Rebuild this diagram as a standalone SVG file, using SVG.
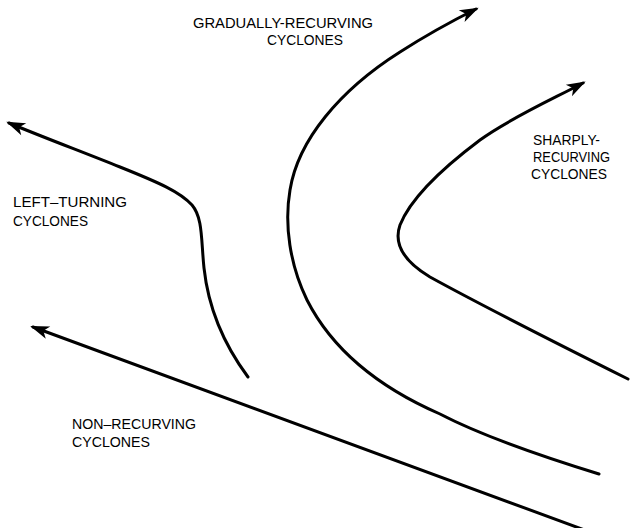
<svg xmlns="http://www.w3.org/2000/svg" width="630" height="528" viewBox="0 0 630 528">
<style>
.track{fill:none;stroke:#000;stroke-width:3;stroke-linecap:round;stroke-linejoin:round}
.lbl{font-family:"Liberation Sans",Arial,sans-serif;font-size:15px;fill:#000}
</style>
<defs>
<marker id="ah" markerUnits="userSpaceOnUse" markerWidth="30" markerHeight="20" viewBox="-20 -10 30 20" refX="0" refY="0" orient="auto">
<path d="M3,0 L-16,-6.5 L-11,0 L-16,6.5 Z" fill="#000"/>
</marker>
</defs>
<rect width="630" height="528" fill="#fff"/>
<g id="tracks">
<path id="gradual" class="track" marker-end="url(#ah)" d="M599,474 C560,462 490,440 440,414 C385,390 335,355 307,300 C290,265 284,225 290,190 C298,140 340,90 400,52 C425,36 450,22 476,9"/>
<path id="sharp" class="track" marker-end="url(#ah)" d="M628,379 C580,355 490,310 430,277 C405,262 393,245 400,225 C410,200 440,170 480,140 C510,118 555,98 583,83"/>
<path id="left" class="track" marker-end="url(#ah)" d="M248,377 C222,342 208,305 204,268 C201,240 203,218 192,205 C180,192 160,183 120,167 C80,151 40,136 9,123"/>
<path id="nonrec" class="track" marker-end="url(#ah)" d="M590,532 L33,327"/>
</g>
<g id="label-gradual">
<text class="lbl" x="193" y="28" textLength="180" lengthAdjust="spacingAndGlyphs">GRADUALLY-RECURVING</text>
<text class="lbl" x="267" y="45" textLength="76" lengthAdjust="spacingAndGlyphs">CYCLONES</text>
</g>
<g id="label-left">
<text class="lbl" x="13" y="207" textLength="114" lengthAdjust="spacingAndGlyphs">LEFT–TURNING</text>
<text class="lbl" x="13" y="226" textLength="75" lengthAdjust="spacingAndGlyphs">CYCLONES</text>
</g>
<g id="label-sharp">
<text class="lbl" x="533" y="145" textLength="67" lengthAdjust="spacingAndGlyphs">SHARPLY-</text>
<text class="lbl" x="533" y="162" textLength="77" lengthAdjust="spacingAndGlyphs">RECURVING</text>
<text class="lbl" x="531" y="179" textLength="76" lengthAdjust="spacingAndGlyphs">CYCLONES</text>
</g>
<g id="label-nonrec">
<text class="lbl" x="72" y="429" textLength="124" lengthAdjust="spacingAndGlyphs">NON–RECURVING</text>
<text class="lbl" x="72" y="447" textLength="78" lengthAdjust="spacingAndGlyphs">CYCLONES</text>
</g>
</svg>
